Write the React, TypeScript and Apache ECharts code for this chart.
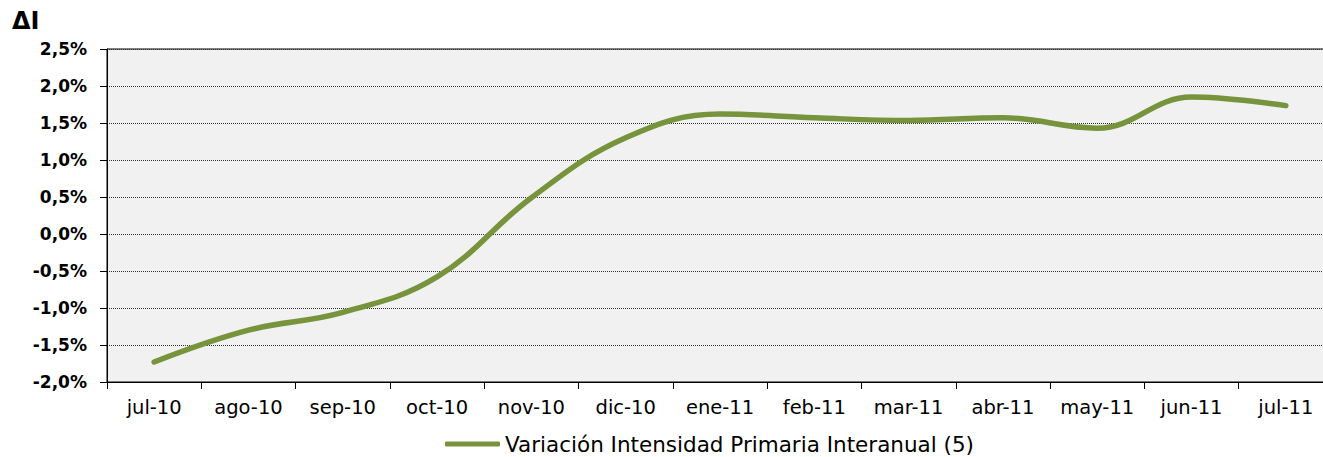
import React, { useEffect, useRef } from "react";
import * as echarts from "echarts";

const categories = ["jul-10", "ago-10", "sep-10", "oct-10", "nov-10", "dic-10", "ene-11", "feb-11", "mar-11", "abr-11", "may-11", "jun-11", "jul-11"];
const values = [-1.73, -1.3, -1.06, -0.58, 0.49, 1.3, 1.62, 1.57, 1.535, 1.57, 1.43, 1.85, 1.735];
const seriesName = "Variación Intensidad Primaria Interanual (5)";
const yTitle = "ΔI";

const FONT = "'DejaVu Sans', sans-serif";

export default function App() {
  const ref = useRef<HTMLDivElement>(null);
  useEffect(() => {
    if (!ref.current) return;
    const chart = echarts.init(ref.current, undefined, { renderer: "svg" });
    chart.setOption({
      animation: false,
      textStyle: { fontFamily: FONT, color: "#000" },
      grid: {
        left: 107,
        top: 49,
        right: 0,
        bottom: 75,
        show: true,
        backgroundColor: "#f1f1f1",
        borderColor: "#000",
        borderWidth: 1,
      },
      graphic: [
        {
          type: "text",
          left: 12,
          top: 9,
          style: { text: yTitle, font: `bold 24px ${FONT}`, fill: "#000" },
        },
      ],
      legend: {
        show: true,
        left: 445,
        top: 433,
        padding: 0,
        icon: "roundRect",
        itemWidth: 55,
        itemHeight: 5,
        textStyle: { fontFamily: FONT, fontSize: 21.5, color: "#000" },
        data: [seriesName],
      },
      xAxis: {
        type: "category",
        data: categories,
        boundaryGap: true,
        axisLine: { onZero: false, lineStyle: { color: "#000", width: 1 } },
        axisTick: { show: true, interval: 0, length: 7, lineStyle: { color: "#000" } },
        axisLabel: { interval: 0, hideOverlap: false, margin: 15, fontSize: 19.5, color: "#000", fontFamily: FONT },
        splitLine: { show: false },
      },
      yAxis: {
        type: "value",
        min: -2,
        max: 2.5,
        interval: 0.5,
        axisLine: { show: true, lineStyle: { color: "#000", width: 1 } },
        axisTick: { show: true, length: 7, lineStyle: { color: "#000" } },
        axisLabel: {
          margin: 20,
          fontSize: 17,
          fontWeight: "bold",
          color: "#000",
          fontFamily: FONT,
          formatter: (v: number) => v.toFixed(1).replace(".", ",") + "%",
        },
        splitLine: { show: true, lineStyle: { color: "#333", type: [1, 1], width: 1 } },
      },
      series: [
        {
          name: seriesName,
          type: "line",
          data: values,
          smooth: 0.4,
          symbol: "none",
          lineStyle: { color: "#77933C", width: 5.5, cap: "round" },
          itemStyle: { color: "#77933C" },
        },
      ],
    });
    return () => chart.dispose();
  }, []);
  return (
    <div
      ref={ref}
      style={{ position: "fixed", left: 0, top: 0, width: 1333, height: 457, background: "#fff" }}
    />
  );
}
